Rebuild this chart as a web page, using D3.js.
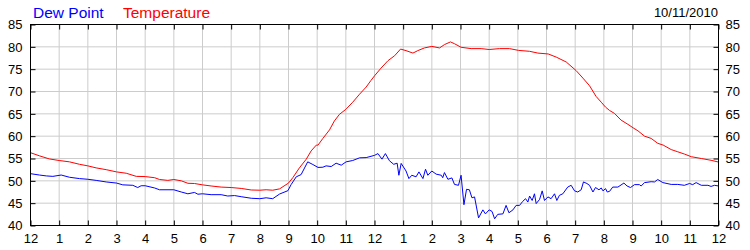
<!DOCTYPE html>
<html><head><meta charset="utf-8">
<script src="https://cdn.jsdelivr.net/npm/d3@7"></script>
<style>
html,body{margin:0;padding:0;background:#fff;}
svg{display:block;font-family:"Liberation Sans",Arial,sans-serif;}
</style></head>
<body><svg id="chart" width="750" height="250"></svg>
<script>
const xTickLabels = ["12","1","2","3","4","5","6","7","8","9","10","11","12","1","2","3","4","5","6","7","8","9","10","11","12"];
const yTicks = [40,45,50,55,60,65,70,75,80,85];
const legendLabels = ["Dew Point","Temperature"];
const dateLabel = "10/11/2010";

const tempHours = [0,0.31,0.66,1,1.36,1.71,2,2.29,2.64,3,3.34,3.69,4,
 4.33,4.5,4.79,5,5.26,5.49,5.72,6,6.3,6.65,7,7.35,7.7,8,
 8.22,8.45,8.69,9,9.15,9.38,9.62,9.79,9.97,10.03,10.2,10.43,10.6,10.78,11,11.24,11.48,11.71,11.88,12,
 12.23,12.47,12.7,12.91,13.1,13.34,13.51,13.74,14,14.27,14.44,14.65,14.79,15.02,15.37,15.72,16,
 16.36,16.71,17.03,17.41,17.7,18.06,18.34,18.69,19.03,19.27,19.5,19.73,19.91,20.06,
 20.2,20.37,20.6,20.84,21.05,21.19,21.42,21.65,21.88,22.07,22.35,22.58,22.81,23.05,23.4,23.74,24];
const tempValues = [56.3,55.6,54.9,54.55,54.25,53.7,53.35,52.9,52.5,52,51.7,51,50.95,
 50.7,50.3,50.1,50.3,50,49.45,49.4,49.1,48.85,48.6,48.5,48.3,47.95,47.9,
 48,47.9,48.2,49.5,50.7,52.9,54.85,56.7,58,58,59.5,61.4,63.4,64.9,66,67.6,69.4,71,72.5,73.5,
 75.25,76.9,78,79.5,79.15,78.6,79.15,79.75,80.1,79.75,80.5,81.1,80.7,79.9,79.6,79.6,79.4,
 79.6,79.6,79.2,79,78.6,78.4,77.7,76.6,74.7,73,71.3,68.9,67.6,66.5,
 65.75,65.1,63.6,62.65,61.75,61.2,60,59.5,58.4,58,57,56.5,56,55.4,55,54.6,54.2];

const dewHours = [0,0.31,0.55,0.78,1.07,1.36,1.71,2,2.29,2.64,3,3.22,3.57,3.74,3.86,4,
 4.33,4.5,5,5.26,5.49,5.72,5.84,6,6.3,6.65,6.88,7.12,7.35,7.7,8,
 8.22,8.45,8.69,8.98,9.09,9.27,9.44,9.67,9.85,10.03,10.2,10.31,10.49,10.66,10.84,11.01,11.24,11.48,11.71,12,
 12.12,12.26,12.38,12.52,12.67,12.79,12.85,12.93,13.1,13.2,13.3,13.45,13.55,13.69,13.78,13.86,14,14.15,14.33,14.38,14.44,14.56,14.7,14.79,14.93,15.02,15.12,15.21,15.31,15.4,15.49,15.63,15.78,15.87,16,
 16.1,16.19,16.3,16.48,16.59,16.69,16.83,16.94,17.06,17.17,17.27,17.35,17.41,17.5,17.58,17.64,17.76,17.85,17.93,18.05,18.16,18.28,18.36,18.45,18.57,18.74,18.86,18.98,19.09,19.21,19.29,19.41,19.5,19.62,19.71,19.83,19.91,19.97,20.06,
 20.12,20.2,20.31,20.49,20.7,20.81,20.93,21.07,21.24,21.3,21.42,21.65,21.77,21.88,22.06,22.35,22.58,22.81,22.99,23.1,23.22,23.4,23.63,23.74,23.86,24];
const dewValues = [51.6,51.3,51.1,51,51.3,50.8,50.5,50.35,50.1,49.75,49.5,49.1,49,48.5,48.9,48.9,
 48.4,48,48,47.5,47.1,47.4,47,47.1,46.9,46.9,46.6,46.7,46.45,46.1,46,
 46.2,46,47.05,47.8,49.15,50.9,51.4,54.25,53.65,53,53.05,53.35,53.2,53.95,53.5,54.25,54.55,55.15,55.2,55.7,
 56.1,54.85,56.1,54.5,53.7,53.95,51.25,53.9,52.2,50.5,51.25,50.9,52,50.5,52.6,51.25,52.2,51.5,51.25,50.7,51.85,50.35,50.65,49.2,49,51.25,44.65,48.1,48,46.2,46.4,41.7,43.5,42.6,43.5,
 43.15,41.5,42.5,42.6,44.5,42.85,43.5,44.5,44.5,45.4,46,45.25,46.6,45.6,47.1,44.9,45.85,47.75,45.6,46.4,46,47.1,45.6,46.75,47.1,48.6,49,47.75,47.5,48,49.75,49.4,49,47.5,48.5,48,48.4,47.75,48.25,
 47.5,47.65,48.6,48.6,49.5,48.85,48.5,49.15,49.15,48.85,49.6,49.8,49.75,50.3,49.6,49.2,49.2,49,49.4,49.15,49.6,49,49,48.75,49,48.85];

const L = 30.5, R = 718.5, T = 24.5, B = 225.5;
const x = d3.scaleLinear().domain([0,24]).range([L,R]);
const y = d3.scaleLinear().domain([40,85]).range([B,T]);
const svg = d3.select("#chart");
const font = "Liberation Sans, Arial, sans-serif";

// grid
const g = svg.append("g");
g.selectAll("line.vx").data(d3.range(1,24)).join("line")
 .attr("x1",d=>x(d)).attr("x2",d=>x(d)).attr("y1",T).attr("y2",B)
 .attr("stroke","#cccccc").attr("stroke-width",1);
g.selectAll("line.hy").data(yTicks.slice(1,-1)).join("line")
 .attr("x1",L).attr("x2",R).attr("y1",d=>y(d)).attr("y2",d=>y(d))
 .attr("stroke","#cccccc").attr("stroke-width",1);

// lines
const line = d3.line().x(d=>x(d[0])).y(d=>y(d[1]));
svg.append("path").datum(tempHours.map((h,i)=>[h,tempValues[i]]))
 .attr("d",line).attr("fill","none").attr("stroke","#ff0000").attr("stroke-width",1);
svg.append("path").datum(dewHours.map((h,i)=>[h,dewValues[i]]))
 .attr("d",line).attr("fill","none").attr("stroke","#0000ff").attr("stroke-width",1);

// axes
const xt = d3.range(0,25);
function styleAxis(sel){
  sel.select(".domain").remove();
  sel.selectAll(".tick line").attr("stroke","#000");
  sel.selectAll("text").attr("fill","#000").style("font-family",font).style("font-size","13px");
}
svg.append("g").attr("transform",`translate(0,${B})`)
 .call(d3.axisBottom(x).tickValues(xt).tickFormat((d,i)=>xTickLabels[i]).tickSize(-5).tickPadding(8))
 .call(styleAxis);
svg.append("g").attr("transform",`translate(0,${T})`)
 .call(d3.axisTop(x).tickValues(xt).tickFormat("").tickSize(-5))
 .call(styleAxis);
svg.append("g").attr("transform",`translate(${L},0)`)
 .call(d3.axisLeft(y).tickValues(yTicks).tickFormat(d3.format("d")).tickSize(-5).tickPadding(8))
 .call(styleAxis);
svg.append("g").attr("transform",`translate(${R},0)`)
 .call(d3.axisRight(y).tickValues(yTicks).tickFormat(d3.format("d")).tickSize(-5).tickPadding(7))
 .call(styleAxis);

// frame
svg.append("rect").attr("x",L).attr("y",T).attr("width",R-L).attr("height",B-T)
 .attr("fill","none").attr("stroke","#000").attr("stroke-width",1);

// legend & date
svg.append("text").attr("x",33).attr("y",17.5).attr("fill","#0000ff")
 .style("font-family",font).style("font-size","15.5px").text(legendLabels[0]);
svg.append("text").attr("x",123).attr("y",17.5).attr("fill","#ff0000")
 .style("font-family",font).style("font-size","15.5px").text(legendLabels[1]);
svg.append("text").attr("x",718).attr("y",16.7).attr("text-anchor","end").attr("fill","#000")
 .style("font-family",font).style("font-size","13px").text(dateLabel);
</script></body></html>
